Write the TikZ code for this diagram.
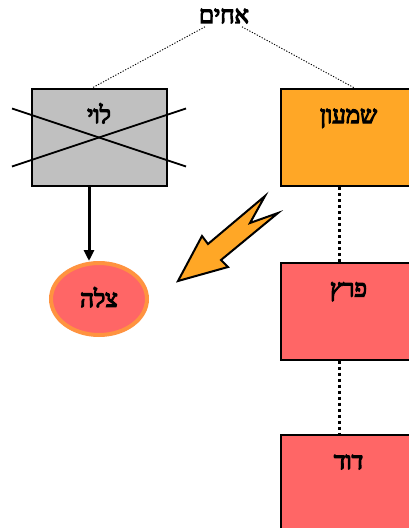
\documentclass[tikz,border=0pt]{standalone}
\usepackage{fontspec}
\newfontfamily\hebfont[Script=Hebrew,FakeBold=5]{Liberation Serif}
\TeXXeTstate=1
\usetikzlibrary{calc,shapes.geometric,arrows.meta}
\definecolor{levigray}{HTML}{C0C0C0}
\definecolor{shimonorange}{HTML}{FFA726}
\definecolor{perezred}{HTML}{FF6666}
\definecolor{tsilaring}{HTML}{FF9340}
\def\heb#1{\beginR #1\endR}

\begin{document}
\begin{tikzpicture}[x=1pt,y=-1pt,
		every node/.style={font=\hebfont\fontsize{24}{28}\selectfont},
		manbox/.style={draw, line width=2pt, rectangle, minimum width=135pt, inner ysep=0pt, text height=34pt, text depth=63pt},
		kin/.style={line width=0.9pt, dash pattern=on 1.2pt off 1.6pt},
		line/.style={line width=3pt, dash pattern=on 3pt off 3pt}]
				\useasboundingbox (0,0) rectangle (409,528);
				\clip (0,0) rectangle (409,528);
				
				\node (achim) at (224,16) {\heb{אחים}};
				
				\node[manbox, fill=levigray] (levi) at (99,137.5) {\heb{לוי}};
				\draw[line width=1.8pt] ($(levi.center)+(-87,-29)$) -- ($(levi.center)+(87,29)$);
				\draw[line width=1.8pt] ($(levi.center)+(-87,29)$) -- ($(levi.center)+(87,-29)$);
				
				\node[manbox, fill=shimonorange] (shimon) at (348.5,137.5) {\heb{שמעון}};
				\node[manbox, fill=perezred] (perez) at (348.5,311) {\heb{פרץ}};
				\node[manbox, fill=perezred] (david) at (348.5,483.5) {\heb{דוד}};
				
				\node[ellipse, draw=tsilaring, line width=4pt, fill=perezred, minimum width=96pt, minimum height=72pt] (tsila) at (99,299) {\raisebox{4pt}{\heb{צלה}}};
				
				\draw[kin] ([xshift=-19pt]achim.south) -- ([xshift=-7pt]levi.north);
				\draw[kin] ([xshift=18pt]achim.south) -- ([xshift=6pt]shimon.north);
				
				\draw[line] ([xshift=-9pt]shimon.south) -- ([xshift=-9pt]perez.north);
				\draw[line] ([xshift=-9pt]perez.south) -- ([xshift=-9pt]david.north);
				
				\draw[line width=3pt, -{Triangle[length=11pt,width=10pt]}] ([xshift=-10pt]levi.south) -- ([xshift=-10pt]levi.south |- tsila.north);
				
				% bolt
				\draw[fill=shimonorange, line width=2pt, line join=miter] (178,281) -- (202,236) -- (208,244) -- (265,196) -- (250,223) -- (278,213) -- (221,260) -- (228,267) -- cycle;
\end{tikzpicture}
\end{document}
